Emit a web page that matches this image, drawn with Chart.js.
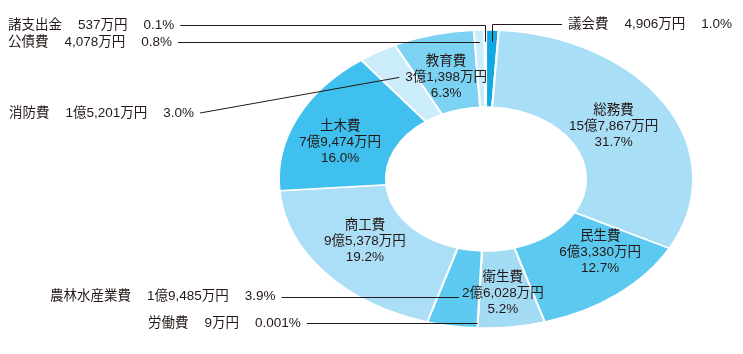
<!DOCTYPE html>
<html><head><meta charset="utf-8">
<script src="https://cdn.jsdelivr.net/npm/chart.js@4/dist/chart.umd.min.js"></script>
<style>html,body{margin:0;padding:0;background:#fff;}#wrap{width:743px;height:354px;}</style>
</head><body><div id="wrap"><canvas id="c" width="743" height="354"></canvas></div>
<script>
// ---- data ----
const categories = ['議会費','総務費','民生費','衛生費','労働費','農林水産業費','商工費','土木費','消防費','教育費','公債費','諸支出金'];
const amounts = [4906, 157867, 63330, 26028, 9, 19485, 95378, 79474, 15201, 31398, 4078, 537]; // 万円
const percentLabels = ['1.0%','31.7%','12.7%','5.2%','0.001%','3.9%','19.2%','16.0%','3.0%','6.3%','0.8%','0.1%'];

// ---- styles ----
const colors = ['#12a8e2','#a9def7','#5cc9f0','#a3dbf5','#5cc9f0','#5fcaf1','#abdff7','#3fc0ee','#cbecfa','#7bd2f3','#cbecfa','#cbecfa'];
const SX = 1.39;           // horizontal stretch of the ring
const FONT = '13.5px "Liberation Sans", "Noto Sans CJK JP", sans-serif';
const TEXT = '#231815';

function fmtAmount(v) {
  const oku = Math.floor(v / 10000), man = v % 10000;
  const manStr = man.toLocaleString('en-US');
  return (oku > 0 ? oku + '億' : '') + manStr + '万円';
}

// inside labels: index -> nudge [dx, dy]
const inside = {1: [-6, 1], 2: [17, -12], 3: [-2, 5], 6: [-2, -7], 7: [-6, 8], 9: [-1, 5]};
const INSIDE_T = 0.74;
// outside labels
const outside = [
  {i: 0, side: 'right', x: 568, ty: 24, t: 0.92, kind: 'elbow'},
  {i: 11, side: 'left', x: 8, ty: 25, t: 0.92, kind: 'elbow'},
  {i: 10, side: 'left', x: 8, t: 0.92, kind: 'flat'},
  {i: 8, side: 'left', x: 9, ty: 113, t: 0.8, kind: 'straight'},
  {i: 5, side: 'left', x: 50, t: 0.8, kind: 'flat'},
  {i: 4, side: 'left', x: 148, t: 0.967, kind: 'flat'}
];

function pt(el, t) {
  const mid = (el.startAngle + el.endAngle) / 2;
  return {x: el.x + Math.cos(mid) * el.outerRadius * t * SX, y: el.y + Math.sin(mid) * el.outerRadius * t};
}

const ellipsePlugin = {
  id: 'ellipse',
  beforeDatasetsDraw(chart) {
    const a = chart.getDatasetMeta(0).data[0];
    const ctx = chart.ctx;
    ctx.save();
    ctx.translate(a.x, a.y); ctx.scale(SX, 1); ctx.translate(-a.x, -a.y);
  },
  afterDatasetsDraw(chart) { chart.ctx.restore(); }
};

const labelPlugin = {
  id: 'labels',
  afterDraw(chart) {
    const ctx = chart.ctx;
    const els = chart.getDatasetMeta(0).data;
    ctx.save();
    ctx.font = FONT; ctx.fillStyle = TEXT; ctx.strokeStyle = TEXT; ctx.lineWidth = 1;
    ctx.textBaseline = 'middle';
    // inside
    ctx.textAlign = 'center';
    Object.keys(inside).forEach(k => {
      const i = +k, el = els[i];
      const p = pt(el, INSIDE_T);
      const x = p.x + inside[k][0], y = p.y + inside[k][1];
      ctx.fillText(categories[i], x, y - 16);
      ctx.fillText(fmtAmount(amounts[i]), x, y);
      ctx.fillText(percentLabels[i], x, y + 16);
    });
    // outside
    ctx.textAlign = 'left';
    const GAP = 16;
    outside.forEach(o => {
      const el = els[o.i];
      const a = pt(el, o.t);
      const parts = [categories[o.i], fmtAmount(amounts[o.i]), percentLabels[o.i]];
      const ty = o.ty !== undefined ? o.ty : a.y;
      let x = o.x;
      parts.forEach((s, j) => { ctx.fillText(s, x, ty); x += ctx.measureText(s).width + (j < 2 ? GAP : 0); });
      const endX = x;
      ctx.beginPath();
      const ly = Math.round(ty) + 0.5;
      if (o.side === 'right') {
        ctx.moveTo(o.x - 6, ly); ctx.lineTo(Math.round(a.x) + 0.5, ly); ctx.lineTo(Math.round(a.x) + 0.5, a.y);
      } else if (o.kind === 'elbow') {
        ctx.moveTo(endX + 6, ly); ctx.lineTo(Math.round(a.x) + 0.5, ly); ctx.lineTo(Math.round(a.x) + 0.5, a.y);
      } else if (o.kind === 'flat') {
        const yy = Math.round(a.y) + 0.5;
        ctx.moveTo(endX + 6, yy); ctx.lineTo(a.x, yy);
      } else {
        ctx.moveTo(endX + 6, ty); ctx.lineTo(a.x, a.y);
      }
      ctx.stroke();
    });
    ctx.restore();
  }
};

new Chart(document.getElementById('c'), {
  type: 'doughnut',
  data: {
    labels: categories,
    datasets: [{data: amounts, backgroundColor: colors, borderColor: '#ffffff', borderWidth: 1.5, radius: 149}]
  },
  options: {
    responsive: false,
    animation: false,
    cutout: '48.3%',
    layout: {padding: {left: 336, right: 107, top: 30, bottom: 26}},
    plugins: {legend: {display: false}, tooltip: {enabled: false}},
    events: []
  },
  plugins: [ellipsePlugin, labelPlugin]
});
</script>
</body></html>
